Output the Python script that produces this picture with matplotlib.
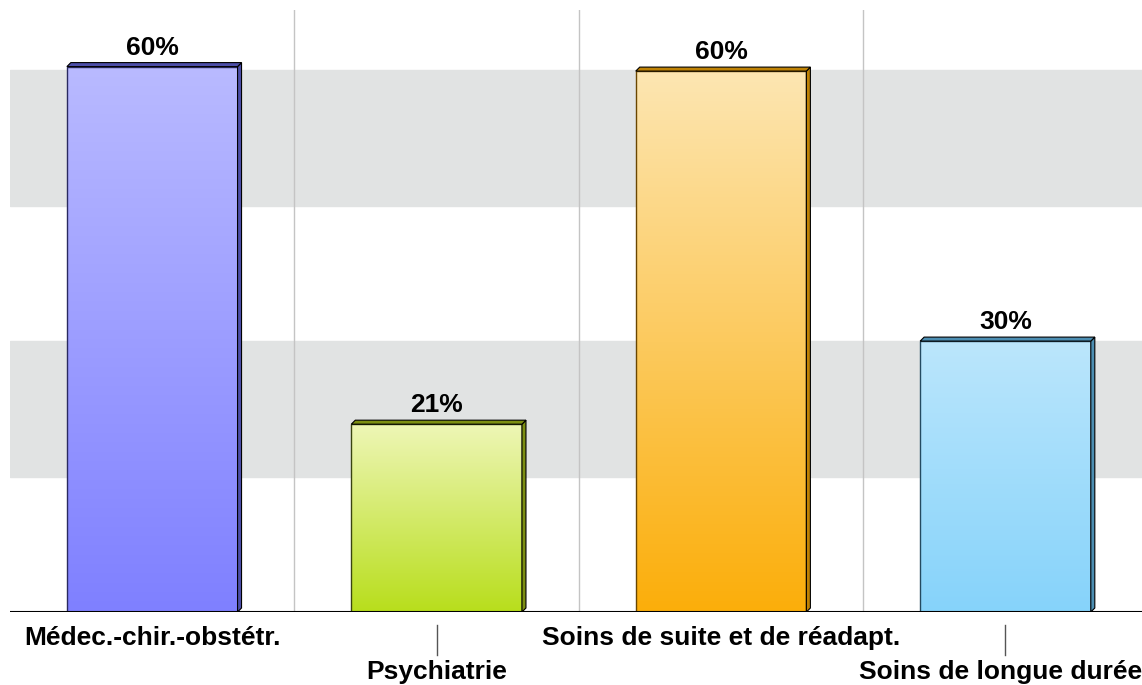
import numpy as np
import matplotlib.pyplot as plt
import matplotlib.transforms as mtransforms
from matplotlib.patches import Polygon, Rectangle

# data
categories = ["Médec.-chir.-obstétr.", "Psychiatrie", "Soins de suite et de réadapt.", "Soins de longue durée"]
values = [60.4, 20.8, 59.9, 30.0]
labels = ["60%", "21%", "60%", "30%"]
top_colors = ["#B9BAFF", "#EEF6B6", "#FDE6B2", "#BBE6FC"]
bottom_colors = ["#7F80FF", "#B8DE1C", "#FBAE0A", "#86D3FA"]
side_colors = ["#4C4EA8", "#7C8E12", "#BF8204", "#4C8EB2"]
edge_colors = ["#2A2A60", "#3A4410", "#6A4600", "#244A60"]

plt.rcParams['font.family'] = ['Liberation Sans', 'DejaVu Sans']

fig = plt.figure(figsize=(11.42, 6.85), dpi=100)
ax = fig.add_axes([10 / 1142, 1 - 612 / 685, 1 - 10 / 1142, 602 / 685])
ax.set_xlim(-0.5, 3.48)
ax.set_ylim(0, 602 / 9.03)
ax.axis('off')

# background bands and separators
ax.axhspan(15, 30, color="#E1E3E3", zorder=0)
ax.axhspan(45, 60, color="#E1E3E3", zorder=0)
for xs in [0.5, 1.5, 2.5]:
    ax.axvline(xs, color="#C4C4C4", lw=1, zorder=1)
ax.axhline(0, color="black", lw=1.5, zorder=5)

w = 0.6
dx = 4 / 284
dy = 4 / 9.03
for i, v in enumerate(values):
    x0 = i - w / 2
    grad = np.linspace(0, 1, 256).reshape(-1, 1)
    c1 = np.array(plt.matplotlib.colors.to_rgb(top_colors[i]))
    c2 = np.array(plt.matplotlib.colors.to_rgb(bottom_colors[i]))
    img = c2 + (c1 - c2) * grad[..., None]
    im = ax.imshow(img, extent=[x0, x0 + w, 0, v], origin='lower', aspect='auto', zorder=3)
    rect = Rectangle((x0, 0), w, v, facecolor='none', edgecolor=edge_colors[i], lw=1, zorder=4)
    ax.add_patch(rect)
    im.set_clip_path(rect)
    side = Polygon([[x0 + w, 0], [x0 + w + dx, dy], [x0 + w + dx, v + dy], [x0 + w, v]],
                   closed=True, facecolor=side_colors[i], edgecolor='black', lw=0.8, zorder=4)
    ax.add_patch(side)
    topf = Polygon([[x0, v], [x0 + dx, v + dy], [x0 + w + dx, v + dy], [x0 + w, v]],
                   closed=True, facecolor=side_colors[i], edgecolor='black', lw=0.8, zorder=4)
    ax.add_patch(topf)
    ax.text(i, v + dy + 0.3, labels[i], ha='center', va='bottom', fontsize=19,
            fontweight='bold', zorder=6)

# category labels, staggered
trans = mtransforms.blended_transform_factory(ax.transData, ax.transAxes)
for i, name in enumerate(categories):
    if i % 2 == 0:
        ax.text(i, -26 / 602, name, ha='center', va='center', fontsize=19,
                fontweight='bold', transform=trans, clip_on=False)
    else:
        ax.plot([i, i], [-13 / 602, -43 / 602], color="#555555", lw=1,
                transform=trans, clip_on=False)
        # last label pushed left so it stays inside the figure
        if i == len(categories) - 1:
            ax.text(1.0, -60 / 602, name, ha='right', va='center', fontsize=19,
                    fontweight='bold', transform=ax.transAxes, clip_on=False)
        else:
            ax.text(i, -60 / 602, name, ha='center', va='center', fontsize=19,
                    fontweight='bold', transform=trans, clip_on=False)

fig.savefig("out.png", dpi=100)
